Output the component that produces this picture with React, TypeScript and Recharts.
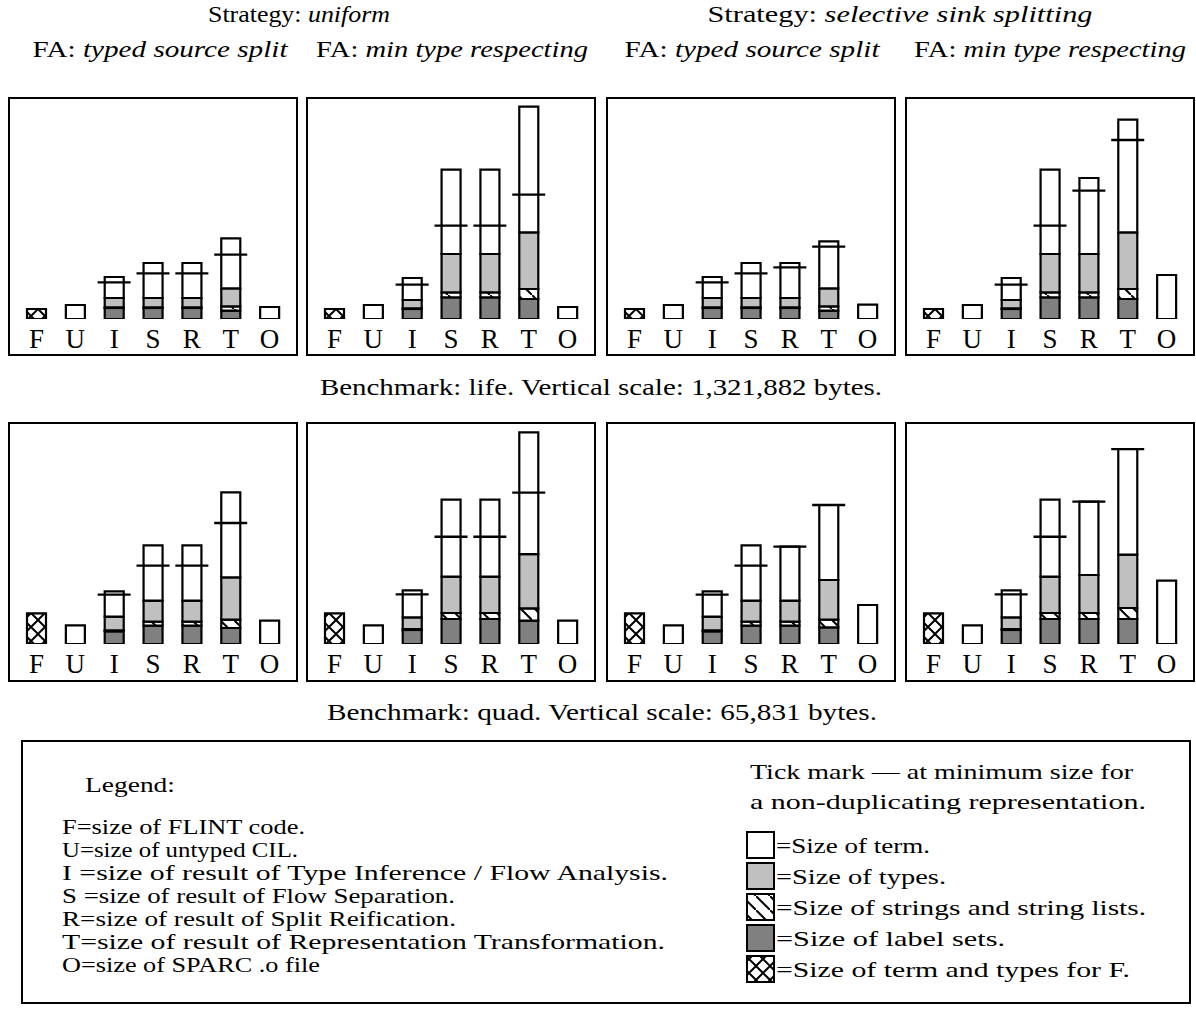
import React from 'react';
import { ComposedChart, Bar, Line, XAxis, YAxis } from 'recharts';

const FONT = '"Liberation Serif", "Times New Roman", serif';

const stages = ['F', 'U', 'I', 'S', 'R', 'T', 'O'];

// vertical scale of each benchmark row (full panel height, bytes)
const LIFE_SCALE = 1321882;
const QUAD_SCALE = 65831;

// life / uniform / typed source split
const lifeUT_flint = [60100, null, null, null, null, null, null];
const lifeUT_labels = [null, null, 66100, 66100, 66100, 49900, null];
const lifeUT_strings = [null, null, 4200, 4200, 4200, 25800, null];
const lifeUT_types = [null, null, 55900, 55900, 55900, 108200, null];
const lifeUT_term = [null, 84100, 126200, 210300, 210300, 300400, 72100];
const lifeUT_min = [null, null, 220500, 274600, 274600, 386400, null];

// life / uniform / min type respecting
const lifeUM_flint = [60100, null, null, null, null, null, null];
const lifeUM_labels = [null, null, 60100, 130400, 130400, 120200, null];
const lifeUM_strings = [null, null, 4200, 30000, 30000, 60100, null];
const lifeUM_types = [null, null, 49900, 230100, 230100, 340700, null];
const lifeUM_term = [null, 84100, 132200, 506500, 506500, 754700, 72100];
const lifeUM_min = [null, null, 206100, 560600, 560600, 746900, null];

// life / selective sink splitting / typed source split
const lifeST_flint = [60100, null, null, null, null, null, null];
const lifeST_labels = [null, null, 66100, 66100, 66100, 49900, null];
const lifeST_strings = [null, null, 4200, 4200, 4200, 25800, null];
const lifeST_types = [null, null, 55900, 55900, 55900, 108200, null];
const lifeST_term = [null, 84100, 126200, 210300, 210300, 282400, 85900];
const lifeST_min = [null, null, 220500, 274600, 310600, 434400, null];

// life / selective sink splitting / min type respecting
const lifeSM_flint = [60100, null, null, null, null, null, null];
const lifeSM_labels = [null, null, 60100, 130400, 130400, 120200, null];
const lifeSM_strings = [null, null, 4200, 30000, 30000, 60100, null];
const lifeSM_types = [null, null, 49900, 230100, 230100, 340700, null];
const lifeSM_term = [null, 84100, 132200, 506500, 456700, 676600, 264400];
const lifeSM_min = [null, null, 206100, 560600, 770900, 1075500, null];

// quad / uniform / typed source split
const quadUT_flint = [9190, null, null, null, null, null, null];
const quadUT_labels = [null, null, 3800, 5480, 5480, 4790, null];
const quadUT_strings = [null, null, 300, 1200, 1200, 2480, null];
const quadUT_types = [null, null, 4100, 6280, 6280, 12660, null];
const quadUT_term = [null, 5600, 7570, 16580, 16580, 25460, 6970];
const quadUT_min = [null, null, 14750, 23430, 23430, 36200, null];

// quad / uniform / min type respecting
const quadUM_flint = [9190, null, null, null, null, null, null];
const quadUM_labels = [null, null, 4190, 7480, 7480, 6970, null];
const quadUM_strings = [null, null, 300, 1800, 1800, 3680, null];
const quadUM_types = [null, null, 3500, 10860, 10860, 16250, null];
const quadUM_term = [null, 5600, 8080, 23040, 23040, 36440, 6970];
const quadUM_min = [null, null, 14870, 32100, 32100, 45270, null];

// quad / selective sink splitting / typed source split
const quadST_flint = [9190, null, null, null, null, null, null];
const quadST_labels = [null, null, 3800, 5480, 5480, 5000, null];
const quadST_strings = [null, null, 300, 1200, 1200, 2300, null];
const quadST_types = [null, null, 4100, 6280, 6280, 11850, null];
const quadST_term = [null, 5600, 7570, 16580, 16160, 22440, 11670];
const quadST_min = [null, null, 14750, 23430, 29110, 41590, null];

// quad / selective sink splitting / min type respecting
const quadSM_flint = [9190, null, null, null, null, null, null];
const quadSM_labels = [null, null, 4190, 7480, 7480, 7480, null];
const quadSM_strings = [null, null, 300, 1800, 1800, 3290, null];
const quadSM_types = [null, null, 3500, 10860, 11370, 15950, null];
const quadSM_term = [null, 5600, 8080, 23040, 21930, 31630, 18940];
const quadSM_min = [null, null, 14870, 32100, 42580, 58340, null];

type Series = (number | null)[];

const buildRows = (
  flint: Series,
  labels: Series,
  strings: Series,
  types: Series,
  term: Series,
  min: Series,
) =>
  stages.map((stage, i) => ({
    stage,
    flint: flint[i],
    labels: labels[i],
    strings: strings[i],
    types: types[i],
    term: term[i],
    min: min[i],
  }));

const panels = [
  { id: 'lut', left: 8, top: 97, height: 259, scale: LIFE_SCALE, rows: buildRows(lifeUT_flint, lifeUT_labels, lifeUT_strings, lifeUT_types, lifeUT_term, lifeUT_min) },
  { id: 'lum', left: 306, top: 97, height: 259, scale: LIFE_SCALE, rows: buildRows(lifeUM_flint, lifeUM_labels, lifeUM_strings, lifeUM_types, lifeUM_term, lifeUM_min) },
  { id: 'lst', left: 606, top: 97, height: 259, scale: LIFE_SCALE, rows: buildRows(lifeST_flint, lifeST_labels, lifeST_strings, lifeST_types, lifeST_term, lifeST_min) },
  { id: 'lsm', left: 905, top: 97, height: 259, scale: LIFE_SCALE, rows: buildRows(lifeSM_flint, lifeSM_labels, lifeSM_strings, lifeSM_types, lifeSM_term, lifeSM_min) },
  { id: 'qut', left: 8, top: 422, height: 260, scale: QUAD_SCALE, rows: buildRows(quadUT_flint, quadUT_labels, quadUT_strings, quadUT_types, quadUT_term, quadUT_min) },
  { id: 'qum', left: 306, top: 422, height: 260, scale: QUAD_SCALE, rows: buildRows(quadUM_flint, quadUM_labels, quadUM_strings, quadUM_types, quadUM_term, quadUM_min) },
  { id: 'qst', left: 606, top: 422, height: 260, scale: QUAD_SCALE, rows: buildRows(quadST_flint, quadST_labels, quadST_strings, quadST_types, quadST_term, quadST_min) },
  { id: 'qsm', left: 905, top: 422, height: 260, scale: QUAD_SCALE, rows: buildRows(quadSM_flint, quadSM_labels, quadSM_strings, quadSM_types, quadSM_term, quadSM_min) },
];

const Patterns = ({ id }: { id: string }) => (
  <defs>
    <pattern id={`hatch-${id}`} patternUnits="userSpaceOnUse" width={14} height={14}>
      <rect width={14} height={14} fill="#fff" />
      <path d="M0,0 L14,14" stroke="#000" strokeWidth={2} />
    </pattern>
    <pattern id={`cross-${id}`} patternUnits="userSpaceOnUse" width={14} height={14}>
      <rect width={14} height={14} fill="#fff" />
      <path d="M0,0 L14,14 M14,0 L0,14" stroke="#000" strokeWidth={2} />
    </pattern>
  </defs>
);

// tick mark: minimum size for a non-duplicating representation
const TickMark = (props: any) => {
  const { cx, cy, index } = props;
  if (cx == null || cy == null || Number.isNaN(cy)) return <g key={`tm-${index}`} />;
  return (
    <line key={`tm-${index}`} x1={cx - 16.5} x2={cx + 16.5} y1={cy} y2={cy} stroke="#000" strokeWidth={2.3} />
  );
};

const PLOT_H = 220;

const Panel = ({ id, left, top, height, scale, rows }: any) => {
  const chartH = height - 4;
  const barProps = {
    stackId: 's',
    stroke: '#000',
    strokeWidth: 2.2,
    barSize: 19,
    isAnimationActive: false,
  };
  return (
    <div
      style={{
        position: 'absolute',
        left,
        top,
        width: 290,
        height,
        border: '2px solid #000',
        boxSizing: 'border-box',
        background: '#fff',
      }}
    >
      <ComposedChart width={286} height={chartH} data={rows} margin={{ top: 0, right: 7, bottom: 0, left: 7 }}>
        <Patterns id={id} />
        <XAxis
          dataKey="stage"
          axisLine={false}
          tickLine={false}
          interval={0}
          height={chartH - PLOT_H}
          tickMargin={4}
          tick={{ fontSize: 27, fill: '#000', fontFamily: FONT }}
        />
        <YAxis hide domain={[0, scale]} allowDataOverflow />
        <Bar dataKey="labels" fill="#808080" {...barProps} />
        <Bar dataKey="strings" fill={`url(#hatch-${id})`} {...barProps} />
        <Bar dataKey="types" fill="#c0c0c0" {...barProps} />
        <Bar dataKey="term" fill="#fff" {...barProps} />
        <Bar dataKey="flint" fill={`url(#cross-${id})`} {...barProps} />
        <Line
          dataKey="min"
          stroke="none"
          dot={TickMark}
          activeDot={false}
          isAnimationActive={false}
          connectNulls={false}
        />
      </ComposedChart>
    </div>
  );
};

const legendLeft = [
  { text: 'F=size of FLINT code.', len: 243 },
  { text: 'U=size of untyped CIL.', len: 236 },
  { text: 'I =size of result of Type Inference / Flow Analysis.', len: 606 },
  { text: 'S =size of result of Flow Separation.', len: 393 },
  { text: 'R=size of result of Split Reification.', len: 394 },
  { text: 'T=size of result of Representation Transformation.', len: 603 },
  { text: 'O=size of SPARC .o file', len: 258 },
];

const legendSwatches = [
  { fill: '#fff', text: '=Size of term.', len: 154 },
  { fill: '#c0c0c0', text: '=Size of types.', len: 170 },
  { fill: 'url(#hatch-legend)', text: '=Size of strings and string lists.', len: 370 },
  { fill: '#808080', text: '=Size of label sets.', len: 229 },
  { fill: 'url(#cross-legend)', text: '=Size of term and types for F.', len: 354 },
];

const faHeaders = [
  { x: 160, italic: 'typed source split', len: 255 },
  { x: 452, italic: 'min type respecting', len: 272 },
  { x: 752, italic: 'typed source split', len: 255 },
  { x: 1050, italic: 'min type respecting', len: 272 },
];

const ADJ = 'spacingAndGlyphs';

const Overlay = () => (
  <svg width={1196} height={1012} style={{ position: 'absolute', left: 0, top: 0 }} fontFamily={FONT} fill="#000">
    <Patterns id="legend" />
    <text x={299} y={22} fontSize={24} textAnchor="middle" textLength={182} lengthAdjust={ADJ}>
      Strategy: <tspan fontStyle="italic">uniform</tspan>
    </text>
    <text x={900} y={22} fontSize={24} textAnchor="middle" textLength={385} lengthAdjust={ADJ}>
      Strategy: <tspan fontStyle="italic">selective sink splitting</tspan>
    </text>
    {faHeaders.map((h) => (
      <text key={h.x} x={h.x} y={57} fontSize={24} textAnchor="middle" textLength={h.len} lengthAdjust={ADJ}>
        FA: <tspan fontStyle="italic">{h.italic}</tspan>
      </text>
    ))}
    <text x={601} y={395} fontSize={24} textAnchor="middle" textLength={562} lengthAdjust={ADJ}>
      Benchmark: life. Vertical scale: 1,321,882 bytes.
    </text>
    <text x={602} y={720} fontSize={24} textAnchor="middle" textLength={550} lengthAdjust={ADJ}>
      Benchmark: quad. Vertical scale: 65,831 bytes.
    </text>

    <rect x={22} y={741} width={1168} height={262} fill="none" stroke="#000" strokeWidth={2} />
    <text x={85} y={792} fontSize={22} textLength={90} lengthAdjust={ADJ}>
      Legend:
    </text>
    {legendLeft.map((t, i) => (
      <text key={t.text} x={62} y={834 + i * 23} fontSize={22} textLength={t.len} lengthAdjust={ADJ}>
        {t.text}
      </text>
    ))}
    <text x={750} y={779} fontSize={22} textLength={383} lengthAdjust={ADJ}>
      Tick mark — at minimum size for
    </text>
    <text x={750} y={809} fontSize={22} textLength={396} lengthAdjust={ADJ}>
      a non-duplicating representation.
    </text>
    {legendSwatches.map((s, i) => {
      const cy = 845 + i * 31;
      return (
        <g key={s.text}>
          <rect x={747} y={cy - 13} width={27} height={26} fill={s.fill} stroke="#000" strokeWidth={2} />
          <text x={776} y={cy + 8} fontSize={22} textLength={s.len} lengthAdjust={ADJ}>
            {s.text}
          </text>
        </g>
      );
    })}
  </svg>
);

export default function App() {
  return (
    <div style={{ position: 'absolute', left: 0, top: 0, width: 1196, height: 1012, background: '#fff' }}>
      <Overlay />
      {panels.map((p) => (
        <Panel key={p.id} {...p} />
      ))}
    </div>
  );
}
